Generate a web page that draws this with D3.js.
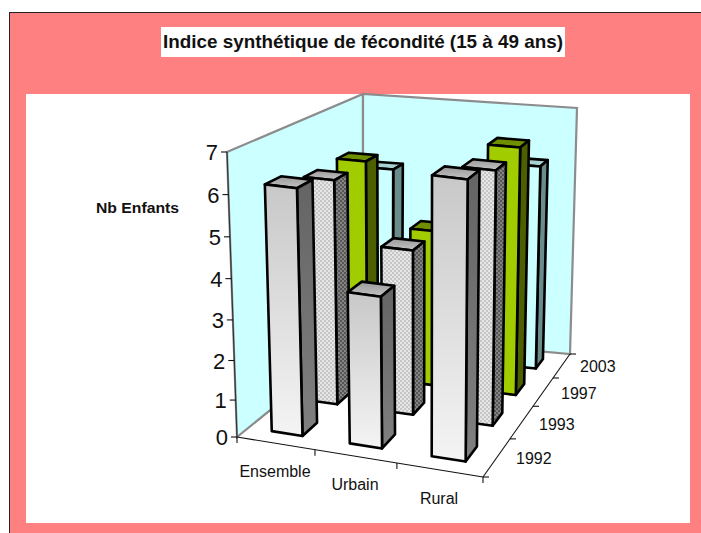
<!DOCTYPE html>
<html><head><meta charset="utf-8">
<script src="https://cdn.jsdelivr.net/npm/d3@7"></script>
<style>html,body{margin:0;padding:0;background:#fff}svg{display:block}text{font-family:"Liberation Sans",Arial,sans-serif;fill:#111}</style>
</head><body><svg id="c" width="701" height="533"></svg>
<script>
const categories = ["Ensemble","Urbain","Rural"];
const years = ["1992","1993","1997","2003"];
const values1992 = [6.17,3.83,6.85];
const values1993 = [5.87,4.33,6.53];
const values1997 = [5.9,4.25,6.62];
const values2003 = [5.27,3.0,5.67];
const seriesValues = [values1992,values1993,values1997,values2003];
const yTicks = [0,1,2,3,4,5,6,7];

const W=701,H=533;
const svg=d3.select("#c");
const defs=svg.append("defs");
function grad(id,a,b){const g=defs.append("linearGradient").attr("id",id).attr("x1",0).attr("y1",0).attr("x2",0).attr("y2",1);
 g.append("stop").attr("offset",0).attr("stop-color",a);g.append("stop").attr("offset",1).attr("stop-color",b);}
grad("gFront","#c8c8c8","#f4f4f4");grad("gSide","#646464","#808080");grad("gTop","#9a9a9a","#c4c4c4");
function checker(id,a,b){const p=defs.append("pattern").attr("id",id).attr("width",4).attr("height",4).attr("patternUnits","userSpaceOnUse");
 p.append("rect").attr("width",4).attr("height",4).attr("fill",a);
 p.append("rect").attr("width",2).attr("height",2).attr("fill",b);
 p.append("rect").attr("x",2).attr("y",2).attr("width",2).attr("height",2).attr("fill",b);}
checker("pFront","#e6e6e6","#c6c6c6");checker("pSide","#848484","#565656");
const styles=[
 {front:"url(#gFront)",side:"url(#gSide)",top:"url(#gTop)"},
 {front:"url(#pFront)",side:"url(#pSide)",top:"url(#gTop)"},
 {front:"#a0cc00",side:"#4d6000",top:"#6f8f00"},
 {front:"#ccffff",side:"#6b8c8c",top:"#a8d2d2"}];

// frame
svg.append("rect").attr("x",9.5).attr("y",12.5).attr("width",W).attr("height",H).attr("fill","#ff8080").attr("stroke","#222");
svg.append("rect").attr("x",26).attr("y",94).attr("width",664).attr("height",429).attr("fill","#fff");
svg.append("rect").attr("x",161).attr("y",27).attr("width",404).attr("height",30).attr("fill","#fff");
svg.append("text").attr("x",363).attr("y",48).attr("text-anchor","middle").attr("font-weight","bold").attr("font-size",19).attr("textLength",400).attr("lengthAdjust","spacingAndGlyphs").text("Indice synthétique de fécondité (15 à 49 ans)");
svg.append("text").attr("x",96).attr("y",213).attr("font-weight","bold").attr("font-size",15).attr("textLength",83).attr("lengthAdjust","spacingAndGlyphs").text("Nb Enfants");

// box corners: [depth][height] -> front/back, left/right
const C={fl0:[237,437],fr0:[483,477],bl0:[363,335],br0:[570,354],
         fl1:[227,152],fr1:[486,183],bl1:[363,94],br1:[577,108]};
const uScale=d3.scaleLinear().domain([0,1,2,3]).range([0,.317,.65,1]);
const vScale=d3.scaleLinear().domain([0,1,2,3,4]).range([0,.31,.575,.805,1]);
const zScale=d3.scalePow().exponent(1.05).domain([0,7]).range([0,1]);
const mix=(a,b,t)=>[a[0]+(b[0]-a[0])*t,a[1]+(b[1]-a[1])*t];
function P(i,j,z){const u=uScale(i),v=vScale(j),w=zScale(z);
 const b=mix(mix(C.fl0,C.fr0,u),mix(C.bl0,C.br0,u),v);
 const t=mix(mix(C.fl1,C.fr1,u),mix(C.bl1,C.br1,u),v);
 return mix(b,t,w);}
const path=d3.line().curve(d3.curveLinearClosed);

// walls
const gridG=svg.append("g");
gridG.append("path").attr("d",path([P(0,0,0),P(0,0,7),P(0,4,7),P(0,4,0)])).attr("fill","#ccffff").attr("stroke","#8c8c8c").attr("stroke-width",2.2);
gridG.append("path").attr("d",path([P(0,4,0),P(0,4,7),P(3,4,7),P(3,4,0)])).attr("fill","#ccffff").attr("stroke","#8c8c8c").attr("stroke-width",2.2);

// axes
const ax=svg.append("g").attr("stroke","#111").attr("fill","none").attr("stroke-width",1.1);
ax.append("path").attr("d",d3.line()([P(0,0,0),P(0,0,7)])).attr("stroke","#333");
ax.append("path").attr("d",d3.line()([P(0,0,0),P(3,0,0)]));
ax.append("path").attr("d",d3.line()([P(3,0,0),P(3,4,0)]));
yTicks.forEach(t=>{const p=P(0,0,t);
 ax.append("path").attr("d",d3.line()([[p[0]-6,p[1]],p]));
 svg.append("text").attr("x",p[0]-9).attr("y",p[1]+8).attr("text-anchor","end").attr("font-size",22).text(t);});
d3.range(0,4).forEach(i=>{const p=P(i,0,0);ax.append("path").attr("d",d3.line()([p,[p[0],p[1]+6]]));});
d3.range(0,5).forEach(j=>{const p=P(3,j,0);ax.append("path").attr("d",d3.line()([p,[p[0]+6,p[1]]]));});
const catPos=[[275,477],[355,490],[439,504]];
categories.forEach((c,i)=>{svg.append("text").attr("x",catPos[i][0]).attr("y",catPos[i][1]).attr("text-anchor","middle").attr("font-size",16).text(c);});
const yearPos=[[516,464],[539,430],[561,399],[580,372]];
years.forEach((y,j)=>{svg.append("text").attr("x",yearPos[j][0]).attr("y",yearPos[j][1]).attr("font-size",16).text(y);});

// bars
const lo=.3,hi=.7;
const bars=svg.append("g").attr("stroke","#000").attr("stroke-width",2.6).attr("stroke-linejoin","round");
for(let j=3;j>=0;j--){for(let i=0;i<3;i++){
 const z=seriesValues[j][i],s=styles[j];
 const u0=i+lo,u1=i+hi,v0=j+lo,v1=j+hi;
 bars.append("path").attr("d",path([P(u0,v0,z),P(u0,v1,z),P(u1,v1,z),P(u1,v0,z)])).attr("fill",s.top);
 bars.append("path").attr("d",path([P(u1,v0,0),P(u1,v1,0),P(u1,v1,z),P(u1,v0,z)])).attr("fill",s.side);
 bars.append("path").attr("d",path([P(u0,v0,0),P(u1,v0,0),P(u1,v0,z),P(u0,v0,z)])).attr("fill",s.front);
}}
</script></body></html>
